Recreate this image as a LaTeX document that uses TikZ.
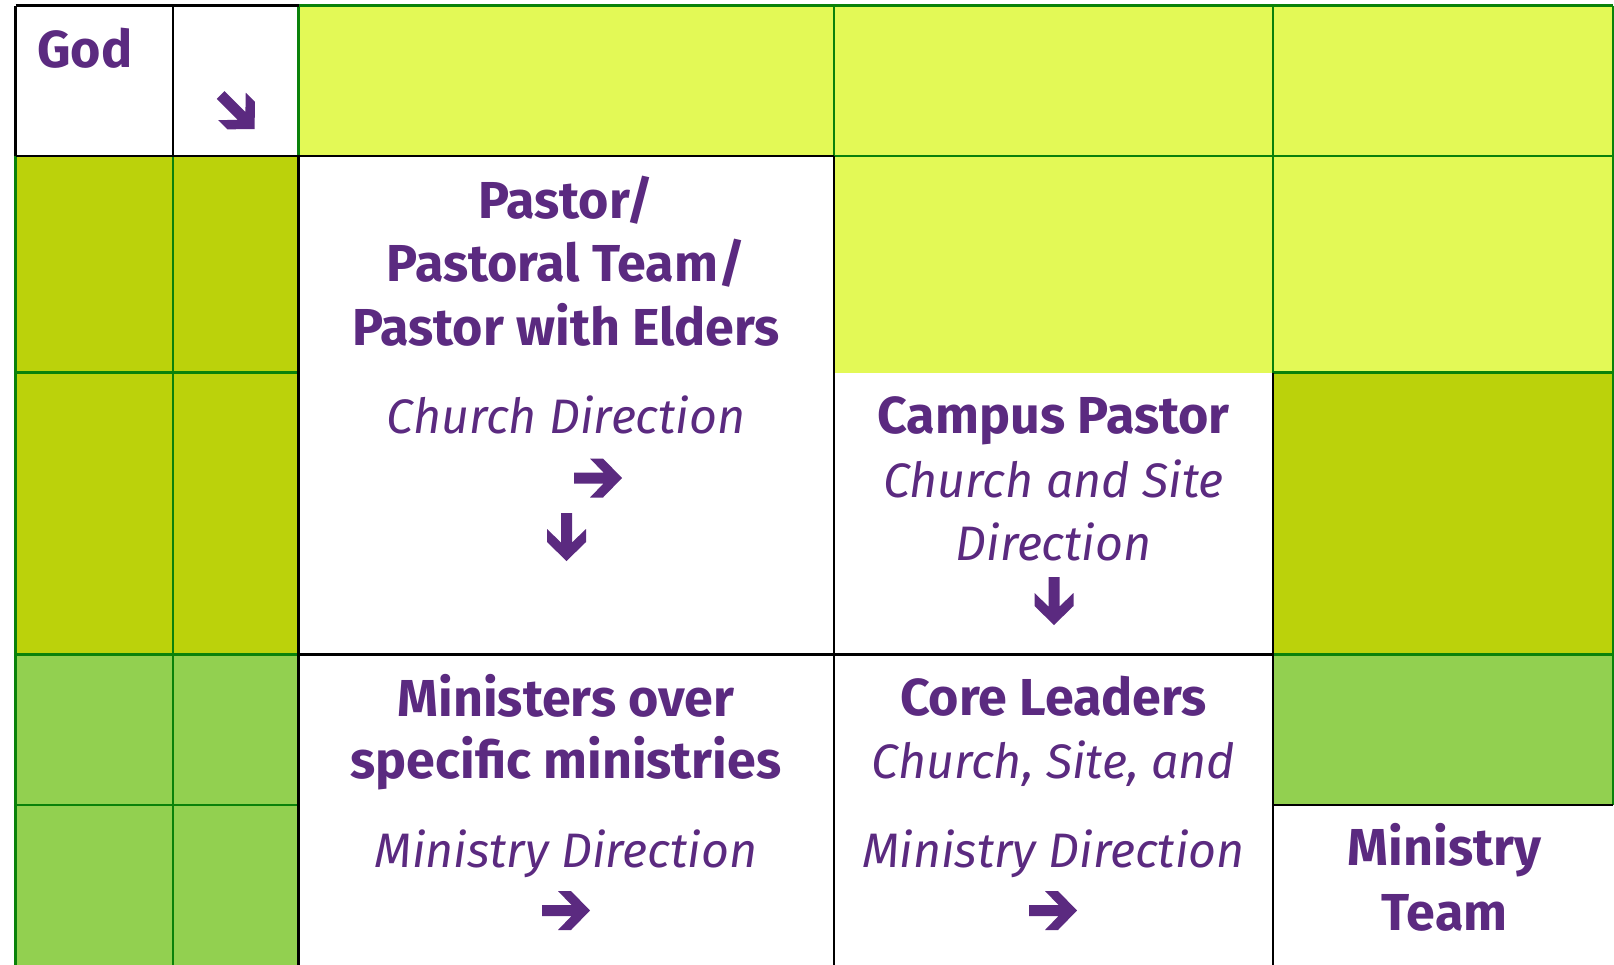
\documentclass[tikz,border=0pt]{standalone}
\usepackage{fontspec}
\setmainfont{Fira Sans}
\definecolor{cLime}{HTML}{E3F956}
\definecolor{cOlive}{HTML}{BBD20B}
\definecolor{cLgreen}{HTML}{92D050}
\definecolor{gline}{HTML}{0A820A}
\definecolor{purp}{HTML}{5B2A80}
\begin{document}
\begin{tikzpicture}[x=0.5pt,y=-0.5pt,
  gl/.style={draw=gline,line width=1.3pt},
  bl/.style={draw=black,line width=1.2pt},
  bt/.style={text=purp,anchor=base,inner sep=0pt,font=\fontsize{26}{31}\selectfont\bfseries},
  itx/.style={text=purp,anchor=base,inner sep=0pt,font=\fontsize{24.2}{29}\selectfont\itshape},
  pics/fatarrow/.style={code={\fill[purp] (-48,-5.5) -- (-18.5,-5.5) -- (-32,-19.5) -- (-19,-19.5) -- (0,0) -- (-19,19.5) -- (-32,19.5) -- (-18.5,5.5) -- (-48,5.5) -- cycle;}}]
\useasboundingbox (0,0) rectangle (1614,965);
\fill[white] (0,0) rectangle (1614,965);
% fills
\fill[cLime] (298.5,5.5) rectangle (1613,156);
\fill[cLime] (834,156) rectangle (1613,372.5);
\fill[cOlive] (15.5,156) rectangle (298.5,654.5);
\fill[cOlive] (1273,372.5) rectangle (1613,654.5);
\fill[cLgreen] (15.5,654.5) rectangle (298.5,965);
\fill[cLgreen] (1273,654.5) rectangle (1613,805);
% green lines
\draw[gl] (298.5,5.5) -- (1613,5.5);
\draw[gl] (834,5.5) -- (834,156);
\draw[gl] (1273,5.5) -- (1273,372.5);
\draw[gl] (1613,5.5) -- (1613,805);
\draw[gl] (834,156) -- (1613,156);
\draw[gl] (298.5,5.5) -- (298.5,156);
\draw[gl] (1273,372.5) -- (1613,372.5);
\draw[gl] (1273,654.5) -- (1613,654.5);
\draw[gl] (15.5,156) -- (15.5,965);
\draw[gl] (173,156) -- (173,965);
\draw[gl] (15.5,372.5) -- (298.5,372.5);
\draw[gl] (15.5,654.5) -- (298.5,654.5);
\draw[gl] (15.5,805) -- (298.5,805);
% black lines
\draw[bl] (15.5,5.5) -- (298.5,5.5);
\draw[bl] (15.5,5.5) -- (15.5,156);
\draw[bl] (173,5.5) -- (173,156);
\draw[bl] (15.5,156) -- (834,156);
\draw[bl] (298.5,156) -- (298.5,965);
\draw[bl] (834,156) -- (834,965);
\draw[bl] (1273,372.5) -- (1273,965);
\draw[bl] (298.5,654.5) -- (1273,654.5);
\draw[bl] (1273,805) -- (1613,805);
% texts
\node[bt,anchor=base west] (god) at (37,67) {God};
\node[bt] (p1) at (566,218) {Pastor/};
\node[bt] (p2) at (566,281) {Pastoral Team/};
\node[bt] (p3) at (566,345) {Pastor with Elders};
\node[itx] (cd) at (566,433) {Church Direction};
\node[bt] (cp) at (1053.5,433) {Campus Pastor};
\node[itx] (cs) at (1053.5,497) {Church and Site};
\node[itx] (cs2) at (1053.5,560) {Direction};
\node[bt] (m1) at (566,716) {Ministers over};
\node[bt] (m2) at (566,778.5) {specific ministries};
\node[itx] (md) at (566,867) {Ministry Direction};
\node[bt] (cl) at (1053.5,715) {Core Leaders};
\node[itx] (csa) at (1053.5,778.5) {Church, Site, and};
\node[itx] (md2) at (1053.5,867) {Ministry Direction};
\node[bt] (mt1) at (1444.5,865) {Ministry};
\node[bt] (mt2) at (1444.5,930) {Team};
% arrows
\pic[rotate=-45] (a0) at (254.6,129) {fatarrow};
\pic (a1) at (622,478) {fatarrow};
\pic[rotate=-90] (a2) at (566.5,561) {fatarrow};
\pic[rotate=-90] (a3) at (1054,625) {fatarrow};
\pic (a4) at (590,910.5) {fatarrow};
\pic (a5) at (1077,910.5) {fatarrow};
\end{tikzpicture}
\end{document}
